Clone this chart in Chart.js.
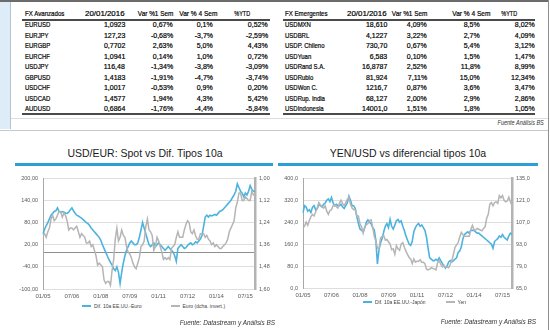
<!DOCTYPE html>
<html>
<head>
<meta charset="utf-8">
<script src="https://cdn.jsdelivr.net/npm/chart.js@4.4.1/dist/chart.umd.min.js"></script>
<style>
  body { margin:0; width:550px; height:330px; background:#fff; position:relative; overflow:hidden; font-family:"Liberation Sans", Arial, sans-serif; }
  .abs { position:absolute; }
  #panel { left:0; top:0; width:548px; height:128px; border-top:2px solid #6b6b6b; border-bottom:1px solid #c8c8c8; }
  #edge { left:548px; top:0; width:1px; height:330px; background:#8f8f8f; }
  #strip { left:0; top:2px; width:10px; height:127px; background:#deecf7; border-right:1px solid #b3c3cf; }
  .tb { font-size:7.3px; color:#000; -webkit-text-stroke:0.2px #000; white-space:nowrap; line-height:10px; height:10px; }
  .rule { height:2px; background:#4a4a4a; }
  .title { font-size:10.5px; color:#1a1a1a; white-space:nowrap; text-align:center; width:300px; line-height:14px; }
  .bar { height:3px; background:#2a9fd8; }
  .src { font-size:6.4px; font-style:italic; color:#333; white-space:nowrap; line-height:8px; }
  .leg { font-size:5px; color:#444; white-space:nowrap; line-height:6px; }
  .sw { display:inline-block; width:9px; height:1.5px; vertical-align:middle; margin-right:3px; position:relative; top:-0.5px; }
</style>
</head>
<body>
<div id="panel" class="abs"></div>
<div id="edge" class="abs"></div>
<div id="strip" class="abs"></div>

<div class="abs title" style="left:-5px;top:146px">USD/EUR: Spot vs Dif. Tipos 10a</div>
<div class="abs bar" style="left:15px;top:163px;width:258px"></div>
<div class="abs title" style="left:258px;top:146px">YEN/USD vs diferencial tipos 10a</div>
<div class="abs bar" style="left:278px;top:163px;width:260px"></div>

<div class="abs" style="left:0;top:170px;width:275px;height:131px"><canvas id="cEur"></canvas></div>
<div class="abs" style="left:275px;top:170px;width:273px;height:130px"><canvas id="cJpy"></canvas></div>
<div id="legEur" class="abs leg" style="left:82px;top:303px"></div>
<div id="legJpy" class="abs leg" style="left:363px;top:299px"></div>

<div class="abs src" style="right:275px;top:319px">Fuente: Datastream y Análisis BS</div>
<div class="abs src" style="right:14px;top:318px">Fuente: Datastream y Análisis BS</div>

<script>
// --- TABLAS FX ---
const headAvz = ['FX Avanzados', '20/01/2016', 'Var %1 Sem', 'Var % 4 Sem', '%YTD'];
const namesAvz = ['EURUSD', 'EURJPY', 'EURGBP', 'EURCHF', 'USDJPY', 'GBPUSD', 'USDCHF', 'USDCAD', 'AUDUSD'];
const spotAvz = ['1,0923', '127,23', '0,7702', '1,0941', '116,48', '1,4183', '1,0017', '1,4577', '0,6864'];
const w1Avz = ['0,67%', '-0,68%', '2,63%', '0,14%', '-1,34%', '-1,91%', '-0,53%', '1,94%', '-1,76%'];
const w4Avz = ['0,1%', '-3,7%', '5,0%', '1,0%', '-3,8%', '-4,7%', '0,9%', '4,3%', '-4,4%'];
const ytdAvz = ['0,52%', '-2,59%', '4,43%', '0,72%', '-3,09%', '-3,74%', '0,20%', '5,42%', '-5,84%'];

const headEmg = ['FX Emergentes', '20/01/2016', 'Var %1 Sem', 'Var % 4 Sem', '%YTD'];
const namesEmg = ['USDMXN', 'USDBRL', 'USDP. Chileno', 'USDYuan', 'USDRand S.A.', 'USDRublo', 'USDWon C.', 'USDRup. India', 'USDIndonesia'];
const spotEmg = ['18,610', '4,1227', '730,70', '6,583', '16,8787', '81,924', '1216,7', '68,127', '14001,0'];
const w1Emg = ['4,09%', '3,22%', '0,67%', '0,10%', '2,52%', '7,11%', '0,87%', '2,00%', '1,51%'];
const w4Emg = ['8,5%', '2,7%', '5,4%', '1,5%', '11,8%', '15,0%', '3,6%', '2,9%', '1,8%'];
const ytdEmg = ['8,02%', '4,09%', '3,12%', '1,47%', '8,99%', '12,34%', '3,47%', '2,86%', '1,05%'];

// --- GRAFICOS (mensual, 01/2005 - 01/2016) ---
const years = [2005, 2006, 2007, 2008, 2009, 2010, 2011, 2012, 2013, 2014, 2015, 2016];
const xTicks = ['01/05', '07/06', '01/08', '07/09', '01/11', '07/12', '01/14', '07/15'];

const difUsEur = [
  50, 62, 72, 80, 90, 100, 105, 110, 112, 120, 110, 108,
  110, 108, 106, 105, 108, 115, 120, 112, 105, 100, 98, 95,
  92, 88, 84, 80, 77, 72, 65, 60, 55, 50, 45, 40,
  32, 20, 10, 0, -10, -20, -28, -35, -45, -50, -40, -55,
  -85, -55, -30, -10, 5, 15, 25, 30, 25, 20, 20, 25,
  40, 60, 80, 65, 50, 35, 20, 15, 20, 25, 15, 20,
  25, 20, 15, 10, 5, 10, 15, 10, 5, 0, -10, -25,
  10, 15, 20, 15, 10, 12, 18, 22, 25, 20, 22, 28,
  25, 30, 35, 45, 70, 95, 100, 95, 100, 98, 100, 102,
  100, 105, 110, 112, 115, 120, 125, 130, 135, 140, 148, 155,
  165, 185, 175, 165, 160, 150, 160, 155, 165, 180, 170, 165,
  165
];
const euroSpot = [
  1.31, 1.30, 1.32, 1.29, 1.27, 1.22, 1.20, 1.23, 1.22, 1.20, 1.18, 1.18,
  1.21, 1.19, 1.20, 1.23, 1.28, 1.27, 1.27, 1.28, 1.27, 1.26, 1.29, 1.32,
  1.30, 1.31, 1.32, 1.35, 1.35, 1.34, 1.37, 1.36, 1.39, 1.42, 1.47, 1.46,
  1.47, 1.48, 1.55, 1.57, 1.56, 1.56, 1.58, 1.50, 1.44, 1.33, 1.27, 1.34,
  1.32, 1.28, 1.31, 1.32, 1.37, 1.40, 1.41, 1.43, 1.46, 1.48, 1.49, 1.46,
  1.43, 1.37, 1.36, 1.34, 1.26, 1.22, 1.28, 1.29, 1.31, 1.39, 1.37, 1.32,
  1.34, 1.37, 1.40, 1.44, 1.43, 1.44, 1.43, 1.44, 1.38, 1.37, 1.36, 1.32,
  1.29, 1.32, 1.32, 1.32, 1.28, 1.25, 1.23, 1.24, 1.29, 1.30, 1.28, 1.31,
  1.33, 1.33, 1.30, 1.30, 1.30, 1.32, 1.31, 1.33, 1.34, 1.36, 1.35, 1.37,
  1.36, 1.37, 1.38, 1.38, 1.37, 1.36, 1.35, 1.33, 1.29, 1.27, 1.25, 1.23,
  1.16, 1.13, 1.08, 1.08, 1.12, 1.12, 1.10, 1.11, 1.12, 1.12, 1.07, 1.09,
  1.09
];
const difUsJpy = [
  275, 300, 295, 280, 285, 275, 295, 300, 285, 290, 305, 300,
  295, 305, 310, 320, 325, 315, 330, 310, 300, 305, 300, 300,
  305, 295, 290, 300, 310, 335, 320, 300, 300, 290, 260, 235,
  215, 210, 205, 220, 240, 248, 240, 235, 220, 212, 175, 88,
  140, 165, 180, 205, 225, 235, 220, 250, 225, 215, 230, 245,
  250, 240, 245, 225, 210, 190, 175, 160, 155, 170, 205, 220,
  230, 235, 225, 230, 220, 210, 185, 145, 110, 105, 100, 100,
  105, 100, 110, 100, 90, 80, 72, 80, 95, 100, 95, 100,
  105, 110, 130, 135, 150, 180, 195, 200, 205, 200, 210, 210,
  210, 205, 200, 200, 195, 190, 185, 180, 175, 170, 165, 160,
  145, 170, 175, 180, 190, 185, 195, 185, 180, 175, 190, 200,
  195
];
const yenSpot = [
  103.5, 104.5, 107, 105, 108, 110.5, 112, 111, 113.5, 116, 119.5, 118,
  117, 116, 117.5, 114, 112, 114.5, 115, 117.5, 118, 117, 116, 119,
  121, 119, 117.5, 119.5, 121.5, 123, 118.5, 116, 115, 115, 111, 111,
  106, 104, 100, 104, 105.5, 106, 108, 108.5, 104, 98, 95, 90.5,
  90, 97, 98, 98.5, 95.5, 96, 94.5, 93, 89.5, 90, 86.5, 92,
  90, 89, 93, 94, 91, 88.5, 86.5, 84.5, 83.5, 80.5, 83.5, 81.5,
  82, 82, 83, 81.5, 81.5, 80.5, 77, 76.5, 77, 78, 77.5, 77,
  76.5, 81, 82.5, 80, 78.5, 79.5, 78, 78.5, 78, 80, 82.5, 86.5,
  91, 92.5, 94, 97.5, 100.5, 99, 98, 98, 98, 98, 102.5, 105,
  102, 102, 103, 102.5, 102, 101.5, 103, 104, 109.5, 112, 118.5, 119.5,
  117.5, 119.5, 120, 119, 124, 122.5, 124, 121, 120, 120.5, 123, 120,
  117.5
];

const BLUE = '#4cb3e0';
const GRAY = '#b5b5b5';
const TICK = '#595959';
const FONT = '"Liberation Sans", Arial, sans-serif';

// etiquetas MM/YY
const months = [];
years.forEach(y => {
    for (let m = 1; m <= 12; m++) {
        if (y === 2016 && m > 1) break;
        months.push(String(m).padStart(2, '0') + '/' + String(y).slice(2));
    }
});

// --- pintar tablas ---
// la fuente original es estrecha en letras y ancha en cifras: se comprime en horizontal
function txt(s, x, y, right, cls, sx) {
    const d = document.createElement('div');
    d.className = 'abs ' + cls;
    d.textContent = s;
    d.style.top = (y - 5) + 'px';
    if (right) d.style.right = (550 - x) + 'px';
    else d.style.left = x + 'px';
    if (sx) {
        d.style.transform = 'scaleX(' + sx + ')';
        d.style.transformOrigin = right ? 'right center' : 'left center';
    }
    document.body.appendChild(d);
}
function rule(x0, x1, y, cls) {
    const d = document.createElement('div');
    d.className = 'abs ' + cls;
    d.style.left = x0 + 'px'; d.style.top = y + 'px'; d.style.width = (x1 - x0) + 'px';
    document.body.appendChild(d);
}
const headScale = [0.84, 1.08, 0.88, 0.9, 0.75];
function drawTable(head, names, cols, nameX, headRight, colRight, x0, x1) {
    txt(head[0], nameX, 14, false, 'tb', headScale[0]);
    for (let c = 1; c < head.length; c++) txt(head[c], headRight[c - 1], 14, true, 'tb', headScale[c]);
    rule(x0, x1, 19, 'rule');
    names.forEach((n, i) => {
        const y = 25 + i * 10.5;
        txt(n, nameX, y, false, 'tb', 0.82);
        cols.forEach((col, c) => txt(col[i], colRight[c], y, true, 'tb', 0.96));
    });
    rule(x0, x1, 113, 'rule');
}
drawTable(headAvz, namesAvz, [spotAvz, w1Avz, w4Avz, ytdAvz], 25, [125, 173, 217, 250], [125, 173, 213, 268], 22, 270);
drawTable(headEmg, namesEmg, [spotEmg, w1Emg, w4Emg, ytdEmg], 285, [387, 427, 490, 517], [387, 427, 480, 535], 283, 535);

const thin = document.createElement('div');
thin.className = 'abs';
thin.style.cssText = 'left:11px;top:118px;width:537px;height:1px;background:#dcdcdc';
document.body.appendChild(thin);
txt('Fuente Análisis BS', 544, 124, true, 'src', 0.86);

// --- graficos ---
function lineChart(id, legendId, blue, gray, cfg) {
    const tickFont = { size: 5.5, family: FONT };
    const chart = new Chart(document.getElementById(id), {
        type: 'line',
        data: {
            labels: months,
            datasets: [
                { label: cfg.label1, data: blue, yAxisID: 'y', borderColor: BLUE, borderWidth: 1.6, pointRadius: 0, tension: 0, order: 1 },
                { label: cfg.label2, data: gray, yAxisID: 'y1', borderColor: GRAY, borderWidth: 1.5, pointRadius: 0, tension: 0, order: 0 }
            ]
        },
        options: {
            responsive: true,
            maintainAspectRatio: false,
            animation: false,
            layout: { padding: { top: cfg.padTop, left: 0, right: 0, bottom: 0 } },
            plugins: { legend: { display: false }, tooltip: { enabled: false } },
            scales: {
                x: {
                    grid: { display: false, drawTicks: false },
                    border: { display: false },
                    ticks: {
                        autoSkip: false, maxRotation: 0, minRotation: 0, padding: 4, color: TICK, font: { size: 6, family: FONT },
                        callback: function (v) { const l = this.getLabelForValue(v); return xTicks.includes(l) ? l : ''; }
                    },
                    afterFit: s => { s.height = 12; }
                },
                y: {
                    position: 'left', min: cfg.yMin, max: cfg.yMax,
                    ticks: { stepSize: cfg.yStep, padding: 5, color: TICK, font: tickFont, autoSkip: false,
                        callback: v => (v === 0 && cfg.zero) ? '' : v.toFixed(cfg.yDec).replace('.', ',') },
                    grid: { drawTicks: false, lineWidth: 1, color: c => (c.tick && c.tick.value === 0 && cfg.zero) ? '#8f8f8f' : '#dedede' },
                    border: { color: '#a8a8a8', width: 1 },
                    afterBuildTicks: s => {
                        if (cfg.zero && !s.ticks.some(t => t.value === 0)) {
                            s.ticks.push({ value: 0 });
                            s.ticks.sort((a, b) => a.value - b.value);
                        }
                    },
                    afterFit: s => { s.width = cfg.leftW; }
                },
                y1: {
                    position: 'right', min: cfg.y1Min, max: cfg.y1Max, reverse: cfg.y1Rev,
                    ticks: { stepSize: cfg.y1Step, padding: 4, color: TICK, font: tickFont,
                        callback: v => v.toFixed(cfg.y1Dec).replace('.', ',') },
                    grid: { drawOnChartArea: false, drawTicks: false },
                    border: { color: '#b3b3b3', width: 2.5 },
                    afterFit: s => { s.width = cfg.rightW; }
                }
            }
        }
    });
    // leyenda html a partir de los datasets
    const leg = document.getElementById(legendId);
    chart.data.datasets.forEach((ds, i) => {
        const item = document.createElement('span');
        item.style.marginRight = (i === chart.data.datasets.length - 1 ? 0 : cfg.legGap) + 'px';
        item.innerHTML = '<span class="sw" style="background:' + ds.borderColor + '"></span>' + ds.label;
        leg.appendChild(item);
    });
    return chart;
}

lineChart('cEur', 'legEur', difUsEur, euroSpot, {
    label1: 'Dif. 10a EE.UU.-Euro', label2: 'Euro (dcha. invert.)',
    padTop: 7, leftW: 43, rightW: 20,
    yMin: -100, yMax: 200, yStep: 60, yDec: 2, zero: true,
    y1Min: 1.0, y1Max: 1.6, y1Step: 0.12, y1Dec: 2, y1Rev: true,
    legGap: 29
});
lineChart('cJpy', 'legJpy', difUsJpy, yenSpot, {
    label1: 'Dif. 10a EE.UU.-Japón', label2: 'Yen',
    padTop: 6, leftW: 28, rightW: 36,
    yMin: 0, yMax: 400, yStep: 80, yDec: 1, zero: false,
    y1Min: 65, y1Max: 135, y1Step: 14, y1Dec: 1, y1Rev: false,
    legGap: 20
});
</script>
</body>
</html>
